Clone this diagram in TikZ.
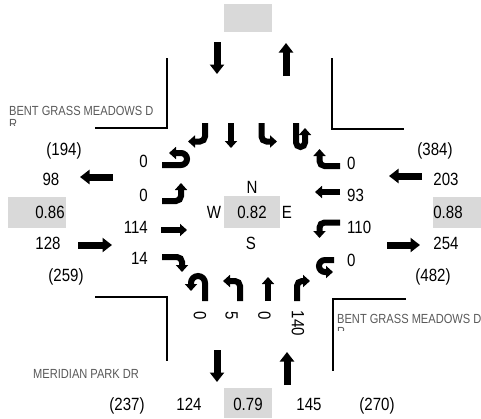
\documentclass[tikz,border=0pt]{standalone}
\usepackage{fontspec}
\setmainfont{Liberation Sans}
\newfontfamily\numfont[FakeStretch=0.85]{Liberation Sans}
\newfontfamily\roadfont[FakeStretch=0.84]{Liberation Sans}
\usetikzlibrary{arrows.meta}
\definecolor{boxgray}{RGB}{217,217,217}
\definecolor{roadgray}{RGB}{89,89,89}
\begin{document}
\begin{tikzpicture}[x=1pt, y=-1pt,
	num/.style={font=\numfont\fontsize{17.7}{20}\selectfont, inner sep=0pt, anchor=base},
	road/.style={font=\roadfont\fontsize{13.2}{13}\selectfont, text=roadgray, inner sep=0pt, anchor=base west},
	flow/.style={line width=7pt, -{Triangle[length=9.5pt,width=14pt]}},
	lane/.style={line width=6pt, -{Triangle[length=7pt,width=12pt]}, rounded corners=5pt},
	curb/.style={line width=1.8pt}]
	\useasboundingbox (0,0) rectangle (481,418);

	% curbs
	\draw[curb] (167,58) -- (167,128) -- (95,128);
	\draw[curb] (332,58) -- (332,129) -- (404,129);
	\draw[curb] (95,297) -- (167,297) -- (167,361);
	\draw[curb] (406,299) -- (333,299) -- (333,371);

	% street names
	\begin{scope}
		\clip (0,95) rectangle (170,125);
		\node[road] (bgnw) at (9,115) {BENT GRASS MEADOWS D};
		\node[road] (bgnwr) at (9,128) {R};
	\end{scope}
	\begin{scope}
		\clip (330,302) rectangle (481,330);
		\node[road] (bgse) at (337,323.5) {BENT GRASS MEADOWS D};
		\node[road] (bgser) at (337,336) {R};
	\end{scope}
	\node[road] (mp) at (33,378) {MERIDIAN PARK DR};

	% peak hour factor boxes
	\fill[boxgray] (224,4) rectangle (272,32);
	\fill[boxgray] (8,197) rectangle (66,228);
	\fill[boxgray] (433,197) rectangle (481,228);
	\fill[boxgray] (224,196) rectangle (280,228);
	\fill[boxgray] (224,388) rectangle (272,418);
	\node[num] (phfw) at (50,218) {0.86};
	\node[num] (phfe) at (448,218) {0.88};
	\node[num] (phf) at (252,218) {0.82};
	\node[num] (phfs) at (248,410) {0.79};

	% compass
	\node[num] (cn) at (252,193) {N};
	\node[num] (cw) at (214,218) {W};
	\node[num] (ce) at (287,218) {E};
	\node[num] (cs) at (251,249) {S};

	% approach totals
	\foreach \x/\y/\t [count=\k] in {64/155/(194), 51/185/98, 48/249/128, 66/281/(259)}{
		\node[num] (west\k) at (\x,\y) {\t};
	}
	\foreach \x/\y/\t [count=\k] in {435/155/(384), 446/185/203, 446/249/254, 433/281/(482)}{
		\node[num] (east\k) at (\x,\y) {\t};
	}
	\foreach \x/\t [count=\k] in {127/(237), 189/124, 309/145, 377/(270)}{
		\node[num] (south\k) at (\x,410) {\t};
	}

	% lane volumes
	\foreach \y/\t [count=\k] in {167/0, 201/0, 233/114, 264/14}{
		\node[num, anchor=base east] (wl\k) at (148,\y) {\t};
	}
	\foreach \y/\t [count=\k] in {169/0, 201/93, 233/110, 266/0}{
		\node[num, anchor=base west] (el\k) at (347,\y) {\t};
	}
	\foreach \x/\t [count=\k] in {200/0, 231.5/5, 264.5/0}{
		\node[num, anchor=center, rotate=-90] (sl\k) at (\x,316) {\t};
	}
	\node[num, anchor=center, rotate=-90] (sl4) at (298,323.5) {140};

	% approach flows
	\draw[flow] (217,42) -- (217,74);
	\draw[flow] (286,76) -- (286,43);
	\draw[flow] (113,177) -- (80,177);
	\draw[flow] (78,245) -- (112,245);
	\draw[flow] (422,176) -- (389,176);
	\draw[flow] (387,245) -- (420,245);
	\draw[flow] (217,350) -- (217,382);
	\draw[flow] (287,385) -- (287,352);

	% north lanes
	\draw[lane] (205,123) -- (205,141.5) -- (188,141.5);
	\draw[lane] (231,123) -- (231,148);
	\draw[lane] (261.5,123) -- (261.5,141.5) -- (277,141.5);
	\draw[lane, rounded corners=4.5pt] (296,123) -- (296,147) -- (305,147) -- (305,128);
	% west lanes
	\draw[lane, rounded corners=6pt] (162,165) -- (187,165) -- (187,153) -- (169,153);
	\draw[lane] (162,201) -- (181,201) -- (181,183);
	\draw[lane] (161,230) -- (187,230);
	\draw[lane] (162,257) -- (182,257) -- (182,272);
	% east lanes
	\draw[lane] (340,166) -- (319.5,166) -- (319.5,149);
	\draw[lane] (340,192) -- (315,192);
	\draw[lane] (340,222.5) -- (319.5,222.5) -- (319.5,238);
	\draw[lane, rounded corners=6pt] (334,260) -- (319,260) -- (319,272) -- (333,272);
	% south lanes
	\draw[lane, rounded corners=7pt] (205,301) -- (205,276) -- (191,276) -- (191,291);
	\draw[lane] (240,301) -- (240,281) -- (223,281);
	\draw[lane] (268,301) -- (268,277);
	\draw[lane] (297,301) -- (297,281) -- (310,281);
\end{tikzpicture}
\end{document}
